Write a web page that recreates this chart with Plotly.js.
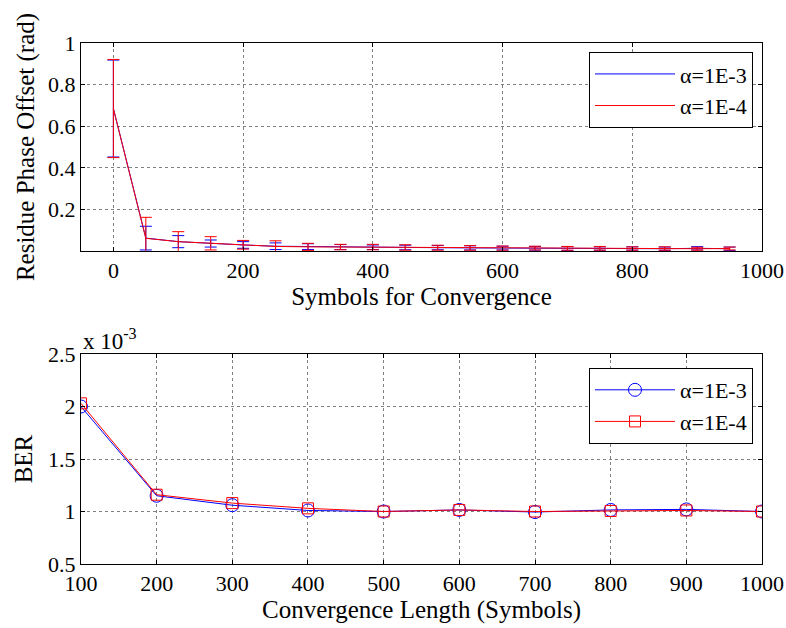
<!DOCTYPE html>
<html>
<head>
<meta charset="utf-8">
<script src="https://cdn.plot.ly/plotly-3.0.1.min.js"></script>
<style>
  html, body { margin: 0; padding: 0; background: #fff; }
  #chart { width: 786px; height: 628px; }
</style>
</head>
<body>
<div id="chart"></div>
<script>
// Residue phase offset vs. symbols used for convergence (mean ± spread)
const symbols = [0, 50, 100, 150, 200, 250, 300, 350, 400, 450, 500, 550, 600, 650, 700, 750, 800, 850, 900, 950];
const phaseA3 = [0.685, 0.062, 0.045, 0.036, 0.029, 0.023, 0.021, 0.019, 0.018, 0.017, 0.016, 0.015, 0.014, 0.013, 0.012, 0.012, 0.012, 0.011, 0.013, 0.011];
const errA3   = [0.233, 0.057, 0.029, 0.017, 0.016, 0.016, 0.014, 0.012, 0.011, 0.011, 0.010, 0.010, 0.009, 0.009, 0.009, 0.008, 0.008, 0.008, 0.008, 0.008];
const phaseA4 = [0.685, 0.061, 0.045, 0.037, 0.030, 0.022, 0.020, 0.019, 0.019, 0.017, 0.016, 0.015, 0.014, 0.014, 0.013, 0.013, 0.012, 0.012, 0.011, 0.012];
const errA4   = [0.236, 0.101, 0.048, 0.032, 0.021, 0.027, 0.017, 0.013, 0.013, 0.013, 0.012, 0.011, 0.010, 0.009, 0.009, 0.009, 0.008, 0.008, 0.007, 0.007];

// Bit error rate vs. convergence length
const convLength = [100, 200, 300, 400, 500, 600, 700, 800, 900, 1000];
const berA3 = [2.00e-3, 1.15e-3, 1.06e-3, 1.01e-3, 1.00e-3, 1.015e-3, 0.995e-3, 1.015e-3, 1.02e-3, 1.00e-3];
const berA4 = [2.03e-3, 1.16e-3, 1.08e-3, 1.03e-3, 1.00e-3, 1.015e-3, 1.00e-3, 1.005e-3, 1.01e-3, 1.00e-3];

const seriesNames = ['α=1E-3', 'α=1E-4'];
const berTicks = [0.5e-3, 1e-3, 1.5e-3, 2e-3, 2.5e-3];
const berTickText = ['0.5', '1', '1.5', '2', '2.5'];

const BLUE = '#0000ff', RED = '#ff0000';
const FONT = 'Liberation Serif';

const traces = [
  { x: symbols, y: phaseA3, name: seriesNames[0], type: 'scatter', mode: 'lines',
    line: { color: BLUE, width: 1 }, showlegend: false,
    error_y: { type: 'data', array: errA3, visible: true, color: BLUE, thickness: 1, width: 6 },
    xaxis: 'x', yaxis: 'y' },
  { x: symbols, y: phaseA4, name: seriesNames[1], type: 'scatter', mode: 'lines',
    line: { color: RED, width: 1 }, showlegend: false,
    error_y: { type: 'data', array: errA4, visible: true, color: RED, thickness: 1, width: 6 },
    xaxis: 'x', yaxis: 'y' },
  // plain line keys for the upper legend (no error-bar glyph in the key)
  { x: [null], y: [null], name: seriesNames[0], type: 'scatter', mode: 'lines',
    line: { color: BLUE, width: 1 }, xaxis: 'x', yaxis: 'y', legend: 'legend' },
  { x: [null], y: [null], name: seriesNames[1], type: 'scatter', mode: 'lines',
    line: { color: RED, width: 1 }, xaxis: 'x', yaxis: 'y', legend: 'legend' },
  { x: convLength, y: berA3, name: seriesNames[0], type: 'scatter', mode: 'lines+markers',
    line: { color: BLUE, width: 1 },
    marker: { symbol: 'circle-open', size: 13, color: BLUE, line: { width: 1 } },
    xaxis: 'x2', yaxis: 'y2', legend: 'legend2' },
  { x: convLength, y: berA4, name: seriesNames[1], type: 'scatter', mode: 'lines+markers',
    line: { color: RED, width: 1 },
    marker: { symbol: 'square-open', size: 11, color: RED, line: { width: 1 } },
    xaxis: 'x2', yaxis: 'y2', legend: 'legend2' }
];

const axisCommon = {
  showline: true, linecolor: '#000', linewidth: 1, mirror: 'allticks',
  ticks: 'inside', ticklen: 4, tickcolor: '#000',
  showgrid: true, gridcolor: '#808080', griddash: 'dot', gridwidth: 1,
  zeroline: false,
  tickfont: { family: FONT, size: 22, color: '#000' }
};

const titleFont = { family: FONT, size: 25, color: '#000' };

const legendCommon = {
  xref: 'paper', yref: 'paper', xanchor: 'right', yanchor: 'top',
  bgcolor: '#fff', bordercolor: '#000', borderwidth: 1,
  font: { family: FONT, size: 22, color: '#000' },
  itemwidth: 80, tracegroupgap: 0,
  itemclick: false, itemdoubleclick: false
};

const layout = {
  width: 786, height: 628,
  margin: { l: 0, r: 0, t: 0, b: 0 },
  paper_bgcolor: '#fff', plot_bgcolor: '#fff',
  font: { family: FONT, color: '#000' },
  xaxis: Object.assign({}, axisCommon, {
    domain: [0.103, 0.9695], anchor: 'y',
    range: [-50, 1000], tickvals: [0, 200, 400, 600, 800, 1000],
    title: { text: 'Symbols for Convergence', font: titleFont, standoff: 2 }
  }),
  yaxis: Object.assign({}, axisCommon, {
    domain: [0.6003, 0.9315], anchor: 'x',
    range: [0, 1], tickvals: [0.2, 0.4, 0.6, 0.8, 1],
    title: { text: 'Residue Phase Offset (rad)', font: titleFont, standoff: 6 }
  }),
  xaxis2: Object.assign({}, axisCommon, {
    domain: [0.103, 0.9695], anchor: 'y2',
    range: [100, 1000], tickvals: convLength,
    title: { text: 'Convergence Length (Symbols)', font: titleFont, standoff: 2 }
  }),
  yaxis2: Object.assign({}, axisCommon, {
    domain: [0.1019, 0.4363], anchor: 'x2',
    range: [0.5e-3, 2.5e-3], tickvals: berTicks, ticktext: berTickText,
    title: { text: 'BER', font: titleFont, standoff: 8 }
  }),
  legend: Object.assign({}, legendCommon, { x: 0.958, y: 0.917 }),
  legend2: Object.assign({}, legendCommon, { x: 0.958, y: 0.414 }),
  annotations: [
    { xref: 'paper', yref: 'paper', x: 0.103, y: 0.4363, xanchor: 'left', yanchor: 'bottom',
      yshift: -2, showarrow: false, text: 'x 10<sup>-3</sup>',
      font: { family: FONT, size: 23, color: '#000' } }
  ],
  showlegend: true
};

Plotly.newPlot('chart', traces, layout, { staticPlot: true, displayModeBar: false });
</script>
</body>
</html>
